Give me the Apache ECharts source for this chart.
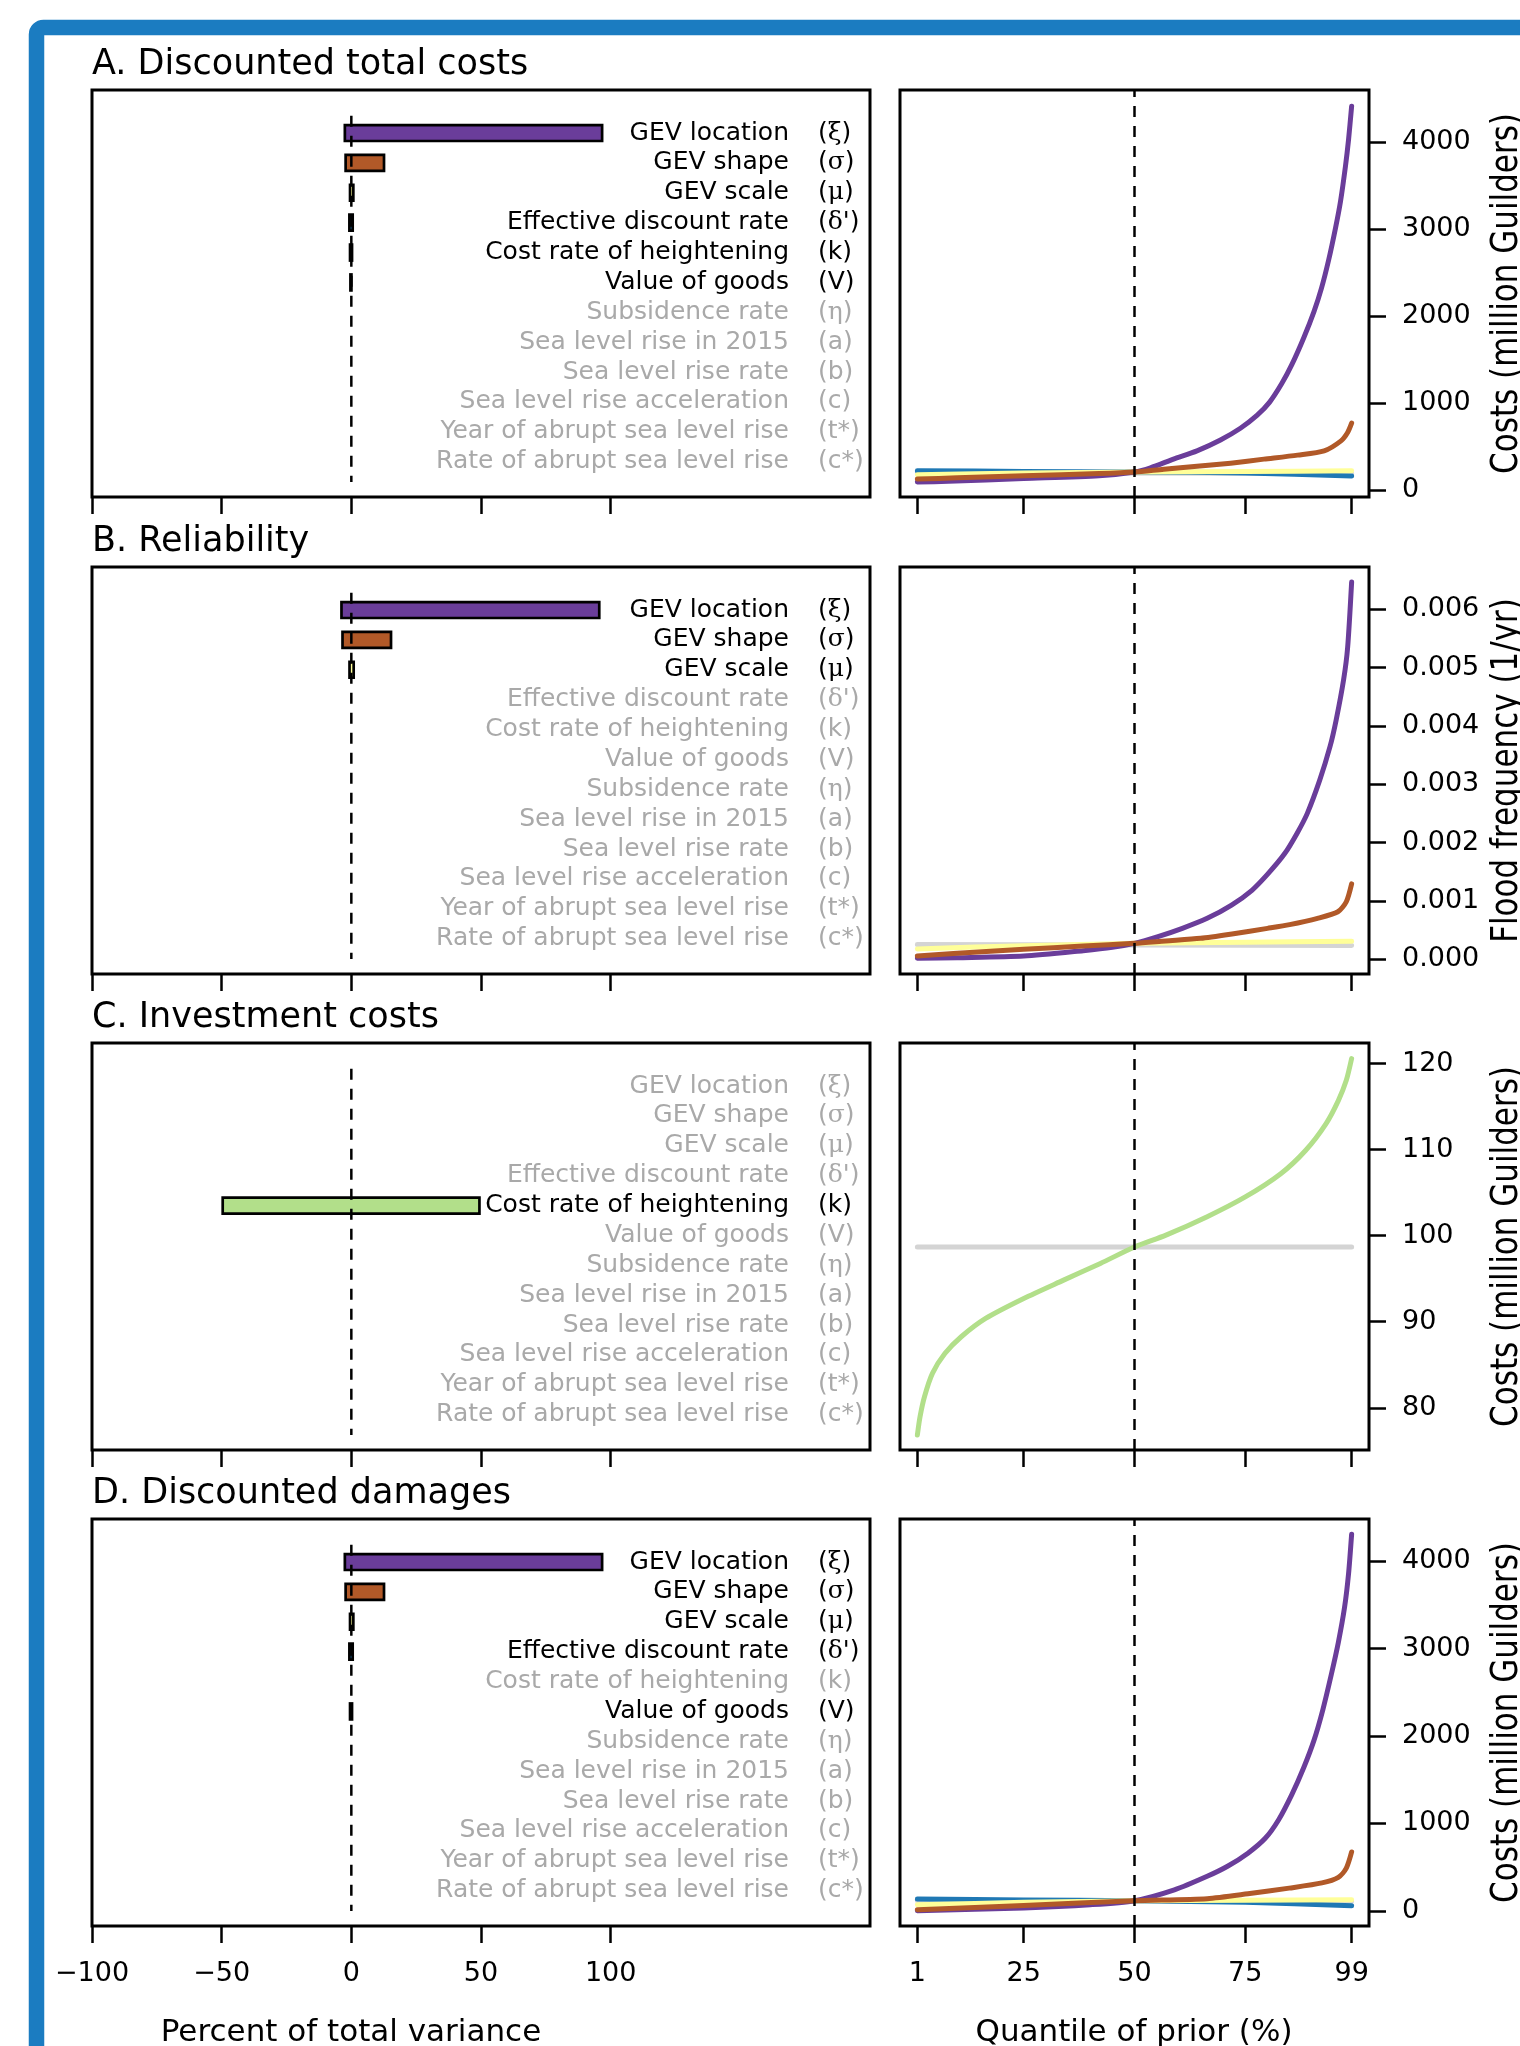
<!DOCTYPE html>
<html>
<head>
<meta charset="utf-8">
<script src="https://cdn.jsdelivr.net/npm/echarts@6/dist/echarts.min.js"></script>
<style>
  html, body { margin: 0; padding: 0; background: #fff; }
  #chart { width: 1520px; height: 2046px; }
</style>
</head>
<body>
<div id="chart"></div>
<script>
// ---------- parameters (rows of the variance bar panels) ----------
const paramNames = [
  'GEV location', 'GEV shape', 'GEV scale', 'Effective discount rate',
  'Cost rate of heightening', 'Value of goods', 'Subsidence rate',
  'Sea level rise in 2015', 'Sea level rise rate', 'Sea level rise acceleration',
  'Year of abrupt sea level rise', 'Rate of abrupt sea level rise'
];
const paramSymbols = ['ξ', 'σ', 'μ', "δ'", 'k', 'V', 'η', 'a', 'b', 'c', 't*', 'c*'];
const rowIndex = [1, 2, 3, 4, 5, 6, 7, 8, 9, 10, 11, 12];

// ---------- tick labels ----------
const pctTicks = [-100, -50, 0, 50, 100];
const quantileTicks = [1, 25, 50, 75, 99];
const costTicks = [0, 1000, 2000, 3000, 4000];
const freqTicks = [0, 0.001, 0.002, 0.003, 0.004, 0.005, 0.006];
const investTicks = [80, 90, 100, 110, 120];

// ---------- percent of total variance: bar extents (null = no bar) ----------
const barLoA = [-2.5, -2.2, -0.5, -0.75, -0.5, -0.35, null, null, null, null, null, null];
const barHiA = [96.7, 12.6, 0.77, 0.52, 0.27, 0.04, null, null, null, null, null, null];
const barLoB = [-3.8, -3.4, -0.7, null, null, null, null, null, null, null, null, null];
const barHiB = [95.6, 15.3, 0.9, null, null, null, null, null, null, null, null, null];
const barLoC = [null, null, null, null, -49.6, null, null, null, null, null, null, null];
const barHiC = [null, null, null, null, 49.4, null, null, null, null, null, null, null];
const barLoD = [-2.5, -2.2, -0.5, -0.75, null, -0.5, null, null, null, null, null, null];
const barHiD = [96.7, 12.6, 0.77, 0.52, null, 0.27, null, null, null, null, null, null];
const zeroLineRows = [0.42, 12.68];

// ---------- response vs. quantile of prior ----------
// A. Discounted total costs (million Guilders)
const qGreyA = [1, 99];
const vGreyA = [198, 190];
const qBlueA = [1, 25, 50, 75, 99];
const vBlueA = [222, 214, 208, 196, 160];
const qYellowA = [1, 25, 50, 75, 99];
const vYellowA = [175, 195, 208, 214, 221];
const qPurpleA = [1, 8, 25, 42, 50, 53.6, 58.8, 64.1, 69.4, 73.9, 77.7, 80.5, 83.2, 85.5, 88.2, 90.5, 92.2, 93.8, 95.4, 96.5, 97.6, 98.3, 99];
const vPurpleA = [92, 100, 132, 164, 208, 255, 355, 450, 575, 710, 860, 1010, 1220, 1440, 1750, 2050, 2320, 2640, 3020, 3320, 3717, 4023, 4410];
const qBrownA = [1, 10, 25, 42, 50, 56.6, 64.1, 71.7, 79.2, 86.8, 92.8, 96.6, 98.1, 99];
const vBrownA = [126, 140, 164, 190, 208, 240, 272, 309, 355, 401, 450, 565, 661, 768];

// B. Reliability (flood frequency, 1/yr)
const qGreyB = [1, 99];
const vGreyB = [0.00025, 0.000232];
const qYellowB = [1, 25, 50, 75, 99];
const vYellowB = [0.000172, 0.00023, 0.000269, 0.000287, 0.000303];
const qPurpleB = [1, 10, 25, 38.4, 45, 50, 55.3, 60.8, 66.4, 71.9, 76.5, 80.2, 83.9, 86.7, 89, 91.8, 94.1, 95.5, 97.2, 98.1, 99];
const vPurpleB = [0.000012, 0.000022, 0.00005, 0.000143, 0.0002, 0.000269, 0.000383, 0.000526, 0.000698, 0.000926, 0.00118, 0.00147, 0.00181, 0.00216, 0.0025, 0.00307, 0.00364, 0.0041, 0.0048, 0.00535, 0.00647];
const qBrownB = [1, 10, 25, 38.4, 50, 57, 64.9, 72, 80, 85, 91.3, 95.9, 97.8, 99];
const vBrownB = [0.00005, 0.0001, 0.000166, 0.000223, 0.000269, 0.00031, 0.000355, 0.00043, 0.000526, 0.00059, 0.000698, 0.000811, 0.000983, 0.00129];

// C. Investment costs (million Guilders)
const qGreyC = [1, 99];
const vGreyC = [98.68, 98.68];
const qGreenC = [1, 1.6, 2.6, 4.4, 7.2, 10.9, 16.4, 25, 34, 42.3, 50, 57.1, 66.4, 75, 83, 88.6, 93.2, 96, 97.8, 99];
const vGreenC = [76.83, 78.95, 81.28, 84.0, 86.3, 88.25, 90.38, 92.7, 94.83, 96.77, 98.68, 100.06, 102.2, 104.5, 107.2, 109.9, 113.0, 115.7, 118.05, 120.58];

// D. Discounted damages (million Guilders)
const qGreyD = [1, 99];
const vGreyD = [118, 108];
const qBlueD = [1, 25, 50, 75, 99];
const vBlueD = [136, 125, 116, 98, 58];
const qYellowD = [1, 25, 50, 75, 99];
const vYellowD = [70, 98, 116, 121, 126];
const qPurpleD = [1, 25, 40, 50, 59, 66.4, 71, 75.6, 79.5, 82.5, 85.5, 88.2, 90.5, 92.5, 94.4, 96, 97.4, 98.3, 99];
const vPurpleD = [2, 33, 70, 116, 240, 395, 510, 660, 830, 1040, 1330, 1640, 1950, 2300, 2700, 3070, 3470, 3853, 4308];
const qBrownD = [1, 25, 50, 66.4, 75.6, 84.9, 92.3, 96, 97.8, 99];
const vBrownD = [13, 62, 116, 140, 195, 260, 320, 384, 489, 674];

// ---------- styling ----------
const FONT = 'DejaVu Sans';
const GREEK_FONT = 'DejaVu Serif';
const GREY_TEXT = '#a9a9a9';
const C_LOC = '#6a3d9a', C_SHAPE = '#b15928', C_SCALE = '#ffff99', C_DISC = '#1f78b4',
      C_COST = '#b2df8a', C_GOODS = '#a6cee3', C_OTHER = '#d4d4d4';
const rowColors = [C_LOC, C_SHAPE, C_SCALE, C_DISC, C_COST, C_GOODS,
                   C_OTHER, C_OTHER, C_OTHER, C_OTHER, C_OTHER, C_OTHER];
const DASH = [11, 9];

const gridTops = [90, 567, 1043, 1519];
const GRID_H = 407;
const LEFT_X = 92, LEFT_W = 778, RIGHT_X = 900, RIGHT_W = 469;
const NAME_RIGHT = 789, SYMBOL_LEFT = 818;
const ROW_MIN = -0.44, ROW_MAX = 13.18;

const panels = [
  { title: 'A. Discounted total costs', yTitle: 'Costs (million Guilders)',
    lo: barLoA, hi: barHiA, yMin: -80, yMax: 4596, ticks: costTicks, fmt: v => String(v),
    lines: [[qGreyA, vGreyA, C_OTHER], [qBlueA, vBlueA, C_DISC], [qYellowA, vYellowA, C_SCALE],
            [qPurpleA, vPurpleA, C_LOC], [qBrownA, vBrownA, C_SHAPE]] },
  { title: 'B. Reliability', yTitle: 'Flood frequency (1/yr)',
    lo: barLoB, hi: barHiB, yMin: -0.000257, yMax: 0.006729, ticks: freqTicks, fmt: v => v.toFixed(3),
    lines: [[qGreyB, vGreyB, C_OTHER], [qYellowB, vYellowB, C_SCALE],
            [qPurpleB, vPurpleB, C_LOC], [qBrownB, vBrownB, C_SHAPE]] },
  { title: 'C. Investment costs', yTitle: 'Costs (million Guilders)',
    lo: barLoC, hi: barHiC, yMin: 75.09, yMax: 122.39, ticks: investTicks, fmt: v => String(v),
    lines: [[qGreyC, vGreyC, C_OTHER], [qGreenC, vGreenC, C_COST]] },
  { title: 'D. Discounted damages', yTitle: 'Costs (million Guilders)',
    lo: barLoD, hi: barHiD, yMin: -173, yMax: 4482, ticks: costTicks, fmt: v => String(v),
    lines: [[qGreyD, vGreyD, C_OTHER], [qBlueD, vBlueD, C_DISC], [qYellowD, vYellowD, C_SCALE],
            [qPurpleD, vPurpleD, C_LOC], [qBrownD, vBrownD, C_SHAPE]] }
];

const rowStyle = (lo, v) => (lo[Math.round(v) - 1] !== null ? 'b' : 'g');

function nameLabel(v, lo) {
  return '{' + rowStyle(lo, v) + '|' + paramNames[Math.round(v) - 1] + '}';
}
function symbolLabel(v, lo) {
  const s = rowStyle(lo, v);
  const sym = paramSymbols[Math.round(v) - 1];
  if (sym.charCodeAt(0) > 0x36f) {
    return '{p' + s + '|(}{q' + s + '|' + sym[0] + '}{p' + s + '|' + sym.slice(1) + ')}';
  }
  return '{p' + s + '|(' + sym + ')}';
}

const richNames = {
  b: { color: '#000', fontSize: 25, fontFamily: FONT },
  g: { color: GREY_TEXT, fontSize: 25, fontFamily: FONT }
};
const richSymbols = {
  pb: { color: '#000', fontSize: 25, fontFamily: FONT },
  pg: { color: GREY_TEXT, fontSize: 25, fontFamily: FONT },
  qb: { color: '#000', fontSize: 25, fontFamily: GREEK_FONT },
  qg: { color: GREY_TEXT, fontSize: 25, fontFamily: GREEK_FONT }
};

const grids = [], xAxes = [], yAxes = [], series = [], graphics = [];
const fmtPct = v => (v < 0 ? '\u2212' + Math.abs(v) : String(v));
const hiddenLine = { show: false, onZero: false };

panels.forEach((p, gi) => {
  const top = gridTops[gi];
  const isBottom = gi === panels.length - 1;
  const gridBase = { top: top, height: GRID_H, show: true, borderColor: '#000', borderWidth: 3,
                     backgroundColor: 'transparent', containLabel: false, outerBoundsMode: 'none' };
  const gL = grids.length;
  grids.push(Object.assign({ left: LEFT_X, width: LEFT_W }, gridBase));
  const gR = grids.length;
  grids.push(Object.assign({ left: RIGHT_X, width: RIGHT_W }, gridBase));

  const tickStyle = { color: '#000', width: 2.5 };
  const labelBase = { fontSize: 27, fontFamily: FONT, color: '#000' };

  // ---- left panel: percent of total variance ----
  const xL = xAxes.length;
  xAxes.push({
    gridIndex: gL, type: 'value', min: -100, max: 200, position: 'bottom',
    axisLine: hiddenLine, splitLine: { show: false },
    axisTick: { show: true, customValues: pctTicks, length: 17, lineStyle: tickStyle },
    axisLabel: Object.assign({ show: isBottom, customValues: pctTicks, formatter: fmtPct,
                               margin: 48, verticalAlign: 'middle' }, labelBase)
  });
  const yL = yAxes.length;
  // row names, right-aligned inside the box
  yAxes.push({
    gridIndex: gL, type: 'value', inverse: true, min: ROW_MIN, max: ROW_MAX, position: 'right',
    axisLine: hiddenLine, axisTick: { show: false }, splitLine: { show: false },
    axisLabel: { inside: true, customValues: rowIndex, margin: LEFT_X + LEFT_W - NAME_RIGHT,
                 align: 'right', formatter: v => nameLabel(v, p.lo), rich: richNames }
  });
  // parameter symbols, left-aligned column
  yAxes.push({
    gridIndex: gL, type: 'value', inverse: true, min: ROW_MIN, max: ROW_MAX, position: 'left',
    axisLine: hiddenLine, axisTick: { show: false }, splitLine: { show: false },
    axisLabel: { inside: true, customValues: rowIndex, margin: SYMBOL_LEFT - LEFT_X,
                 align: 'left', formatter: v => symbolLabel(v, p.lo), rich: richSymbols }
  });

  // ---- right panel: quantile of prior ----
  const xR = xAxes.length;
  xAxes.push({
    gridIndex: gR, type: 'value', min: -2.92, max: 102.92, position: 'bottom',
    axisLine: hiddenLine, splitLine: { show: false },
    axisTick: { show: true, customValues: quantileTicks, length: 17, lineStyle: tickStyle },
    axisLabel: Object.assign({ show: isBottom, customValues: quantileTicks,
                               margin: 48, verticalAlign: 'middle' }, labelBase)
  });
  const yR = yAxes.length;
  yAxes.push({
    gridIndex: gR, type: 'value', position: 'right', min: p.yMin, max: p.yMax,
    axisLine: hiddenLine, splitLine: { show: false },
    axisTick: { show: true, customValues: p.ticks, length: 17, lineStyle: tickStyle },
    axisLabel: Object.assign({ customValues: p.ticks, formatter: p.fmt, margin: 33 }, labelBase)
  });

  // variance bars
  const barData = [];
  p.lo.forEach((l, i) => { if (l !== null) barData.push([l, p.hi[i], i + 1, i]); });
  series.push({
    type: 'custom', xAxisIndex: xL, yAxisIndex: yL, z: 5,
    encode: { x: [0, 1], y: 2 }, data: barData, silent: true,
    renderItem: (params, api) => {
      const a = api.coord([api.value(0), api.value(2)]);
      const b = api.coord([api.value(1), api.value(2)]);
      const h = Math.abs(api.size([0, 0.534])[1]);
      return {
        type: 'rect',
        shape: { x: a[0], y: a[1] - h / 2, width: b[0] - a[0], height: h },
        style: { fill: rowColors[api.value(3)], stroke: '#000', lineWidth: 2.7 }
      };
    }
  });
  // zero reference line
  series.push({
    type: 'line', xAxisIndex: xL, yAxisIndex: yL, z: 8, silent: true,
    symbol: 'none', data: [[0, zeroLineRows[0]], [0, zeroLineRows[1]]],
    lineStyle: { color: '#000', width: 2.5, type: DASH }
  });

  // quantile response curves
  p.lines.forEach(([qs, vs, col], li) => {
    series.push({
      type: 'line', xAxisIndex: xR, yAxisIndex: yR, z: 3 + li, silent: true,
      symbol: 'none', smooth: 0.25,
      data: qs.map((q, k) => [q, vs[k]]),
      lineStyle: { color: col, width: 5, cap: 'round', join: 'round' }
    });
  });
  // median reference line
  series.push({
    type: 'line', xAxisIndex: xR, yAxisIndex: yR, z: 10, silent: true,
    symbol: 'none', data: [[50, p.yMin], [50, p.yMax]],
    lineStyle: { color: '#000', width: 2.5, type: DASH }
  });

  // panel title and right-side axis title
  graphics.push({
    type: 'text', x: LEFT_X, y: top - 25.5,
    style: { text: p.title, fontSize: 35, fontFamily: FONT, fill: '#000',
             align: 'left', verticalAlign: 'middle' }
  });
  graphics.push({
    type: 'text', x: 1508, y: top + GRID_H / 2, rotation: Math.PI / 2, scaleY: 1.18,
    style: { text: p.yTitle, fontSize: 31, fontFamily: FONT, fill: '#000',
             align: 'center', verticalAlign: 'middle' }
  });
});

graphics.push({
  type: 'text', x: 351, y: 2033,
  style: { text: 'Percent of total variance', fontSize: 31, fontFamily: FONT, fill: '#000',
           align: 'center', verticalAlign: 'middle' }
});
graphics.push({
  type: 'text', x: 1134, y: 2033,
  style: { text: 'Quantile of prior (%)', fontSize: 31, fontFamily: FONT, fill: '#000',
           align: 'center', verticalAlign: 'middle' }
});
// blue page frame
graphics.push({
  type: 'rect', z: -1,
  shape: { x: 36.5, y: 27.5, width: 1700, height: 2200, r: 7 },
  style: { fill: null, stroke: '#1b7cc1', lineWidth: 15.5 }
});

const chart = echarts.init(document.getElementById('chart'), null, { renderer: 'canvas' });
chart.setOption({
  animation: false,
  backgroundColor: '#fff',
  grid: grids,
  xAxis: xAxes,
  yAxis: yAxes,
  series: series,
  graphic: graphics
});
</script>
</body>
</html>
